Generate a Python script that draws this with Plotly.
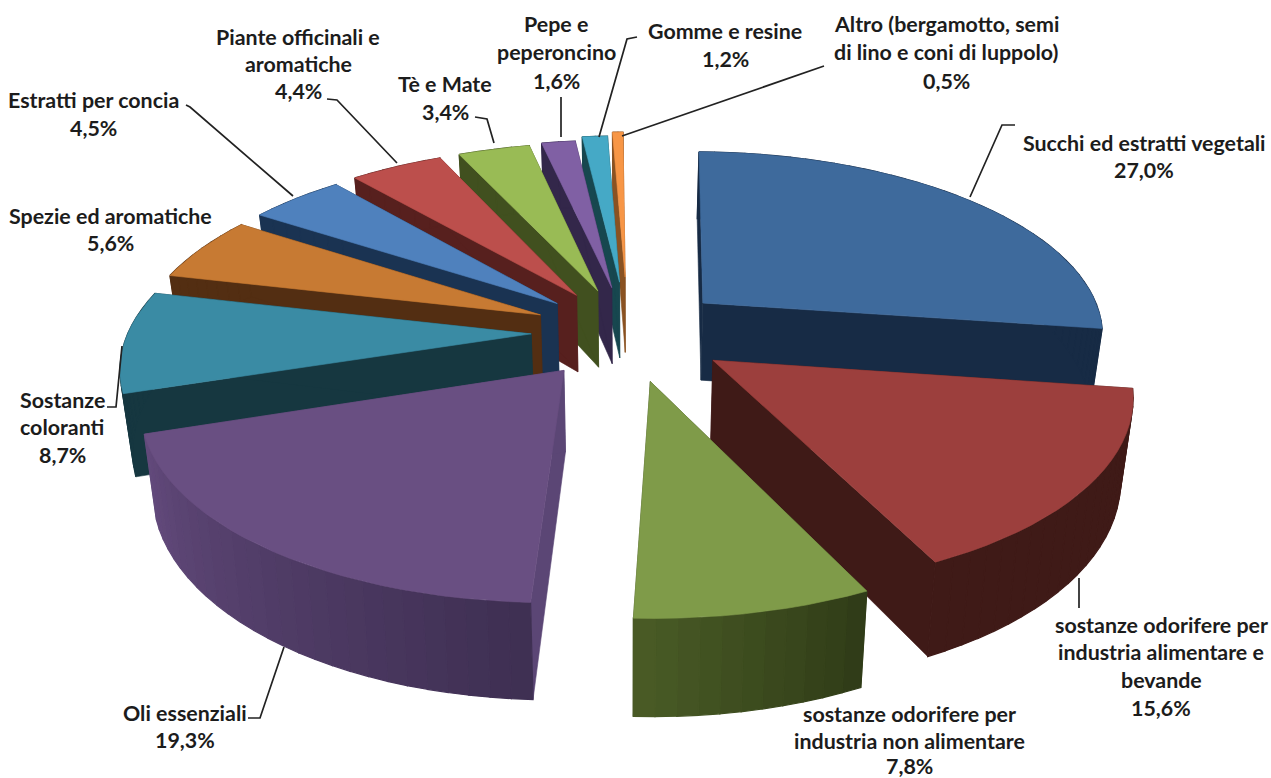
import math
import plotly.graph_objects as go

# ---- data ----
names = ["Succhi ed estratti vegetali", "sostanze odorifere per industria alimentare e bevande",
         "sostanze odorifere per industria non alimentare", "Oli essenziali", "Sostanze coloranti",
         "Spezie ed aromatiche", "Estratti per concia", "Piante officinali e aromatiche",
         "Tè e Mate", "Pepe e peperoncino", "Gomme e resine",
         "Altro (bergamotto, semi di lino e coni di luppolo)"]
values = [27.0, 15.6, 7.8, 19.3, 8.7, 5.6, 4.5, 4.4, 3.4, 1.6, 1.2, 0.5]
explode = [0.25, 0.255, 0.265, 0.255, 0.24, 0.24, 0.24, 0.245, 0.245, 0.255, 0.285, 0.315]

top_colors = ["#3e6a9c", "#9c3f3d", "#7f9b49", "#694f82", "#3a8ba4", "#c77a33",
              "#4f81bd", "#bc4f4c", "#99bb55", "#8060a4", "#45a9c6", "#f79646"]
wall_colors = ["#172b45", "#3f1a17", "#3a4a1e", "#5b4675", "#163740", "#532e12",
               "#1a3352", "#57201e", "#41501f", "#33274a", "#17474f", "#8a5222"]
rim_start = ["#172b45", "#3f1a17", "#2f3b17", "#3e2f52", "#163740", "#532e12",
             "#1a3352", "#57201e", "#41501f", "#33274a", "#17474f", "#8a5222"]
rim_end = ["#172b45", "#3f1a17", "#4a5c26", "#634a7c", "#163740", "#532e12",
           "#1a3352", "#57201e", "#41501f", "#33274a", "#17474f", "#8a5222"]

labels = [
    (1144, [(143, "Succhi ed estratti vegetali"), (170, "27,0%")]),
    (1161, [(625, "sostanze odorifere per"), (652, "industria alimentare e"), (680, "bevande"), (708, "15,6%")]),
    (909, [(714, "sostanze odorifere per"), (741, "industria non alimentare"), (766, "7,8%")]),
    (185, [(713, "Oli essenziali"), (740, "19,3%")]),
    (62, [(400, "Sostanze"), (427, "coloranti"), (455, "8,7%")]),
    (110, [(216, "Spezie ed aromatiche"), (243, "5,6%")]),
    (93, [(100, "Estratti per concia"), (128, "4,5%")]),
    (298, [(37, "Piante officinali e"), (64, "aromatiche"), (91, "4,4%")]),
    (445, [(84, "Tè e Mate"), (112, "3,4%")]),
    (556, [(24, "Pepe e"), (52, "peperoncino"), (81, "1,6%")]),
    (725, [(31, "Gomme e resine"), (59, "1,2%")]),
    (946, [(24, "Altro (bergamotto, semi"), (52, "di lino e coni di luppolo)"), (81, "0,5%")]),
]
leaders = [
    ([1015, 1002, 970], [125, 125, 197]),
    ([1079, 1079], [578, 608]),
    ([248, 260, 284], [718, 718, 647]),
    ([107, 116, 122], [407, 407, 346]),
    ([186, 190, 293], [105, 107, 196]),
    ([327, 337, 397], [99, 100, 163]),
    ([475, 487, 494], [117, 119, 143]),
    ([561, 561], [97, 137]),
    ([637, 627, 599], [37, 39, 137]),
    ([824, 622], [66, 136]),
]

# ---- projection of the tilted, exploded disc ----
CX, CY, R0, RY0, K, H, SHRINK, ROT = 628, 332, 403, 183, 0.155, 79, 0.975, 1.0


def proj(wx, wy, low=False):
    s = 1 / (1 + K * wy)
    X = CX + R0 * wx * s
    Y = CY - RY0 * wy * s
    if low:
        X = CX + (X - CX) * SHRINK
        Y = Y + H * s
    return X, Y


def mix(c1, c2, t):
    a = [int(c1[i:i + 2], 16) for i in (1, 3, 5)]
    b = [int(c2[i:i + 2], 16) for i in (1, 3, 5)]
    return "rgb(%d,%d,%d)" % tuple(round(p + (q - p) * t) for p, q in zip(a, b))


fig = go.Figure()


def poly(pts, color, lw=0.6):
    xs = [p[0] for p in pts] + [pts[0][0]]
    ys = [p[1] for p in pts] + [pts[0][1]]
    fig.add_trace(go.Scatter(x=xs, y=ys, mode="lines", fill="toself", fillcolor=color,
                             line=dict(color=color, width=lw), hoverinfo="skip", showlegend=False))


total = 100.0
slices = []
acc = 0.0
for i, v in enumerate(values):
    a0 = ROT + acc / total * 360
    acc += v
    a1 = ROT + acc / total * 360
    slices.append((i, a0, a1))

slices.sort(key=lambda s: -math.cos(math.radians((s[1] + s[2]) / 2)))

for i, a0, a1 in slices:
    mid = math.radians((a0 + a1) / 2)
    ax, ay = explode[i] * math.sin(mid), explode[i] * math.cos(mid)
    n = max(2, int((a1 - a0) / 2.5))
    rim = []
    for k in range(n + 1):
        t = math.radians(a0 + (a1 - a0) * k / n)
        rim.append((ax + math.sin(t), ay + math.cos(t)))
    # radial walls
    for w in (rim[0], rim[-1]):
        poly([proj(ax, ay), proj(*w), proj(*w, low=True), proj(ax, ay, low=True)], wall_colors[i])
    # outer wall
    for k in range(n):
        poly([proj(*rim[k]), proj(*rim[k + 1]), proj(*rim[k + 1], low=True), proj(*rim[k], low=True)],
             mix(rim_start[i], rim_end[i], (k + 0.5) / n), lw=1.2)
    # top face
    poly([proj(ax, ay)] + [proj(*p) for p in rim], top_colors[i])

for lx, ly in leaders:
    fig.add_trace(go.Scatter(x=lx, y=ly, mode="lines", line=dict(color="#222222", width=1.7),
                             hoverinfo="skip", showlegend=False))

annotations = []
for x, lines in labels:
    for y, txt in lines:
        annotations.append(dict(x=x, y=y, text="<b>%s</b>" % txt, showarrow=False, xanchor="center",
                                yanchor="middle", font=dict(family="Lato", size=21.4, color="#1c1c1c")))

fig.update_layout(
    width=1271, height=778, margin=dict(l=0, r=0, t=0, b=0),
    paper_bgcolor="white", plot_bgcolor="white", showlegend=False,
    xaxis=dict(range=[0, 1271], visible=False, fixedrange=True),
    yaxis=dict(range=[778, 0], visible=False, fixedrange=True),
    annotations=annotations,
)
fig.write_html("out.html", config={"displayModeBar": False},
               post_script="document.body.style.margin='0';document.body.style.overflow='hidden';")
